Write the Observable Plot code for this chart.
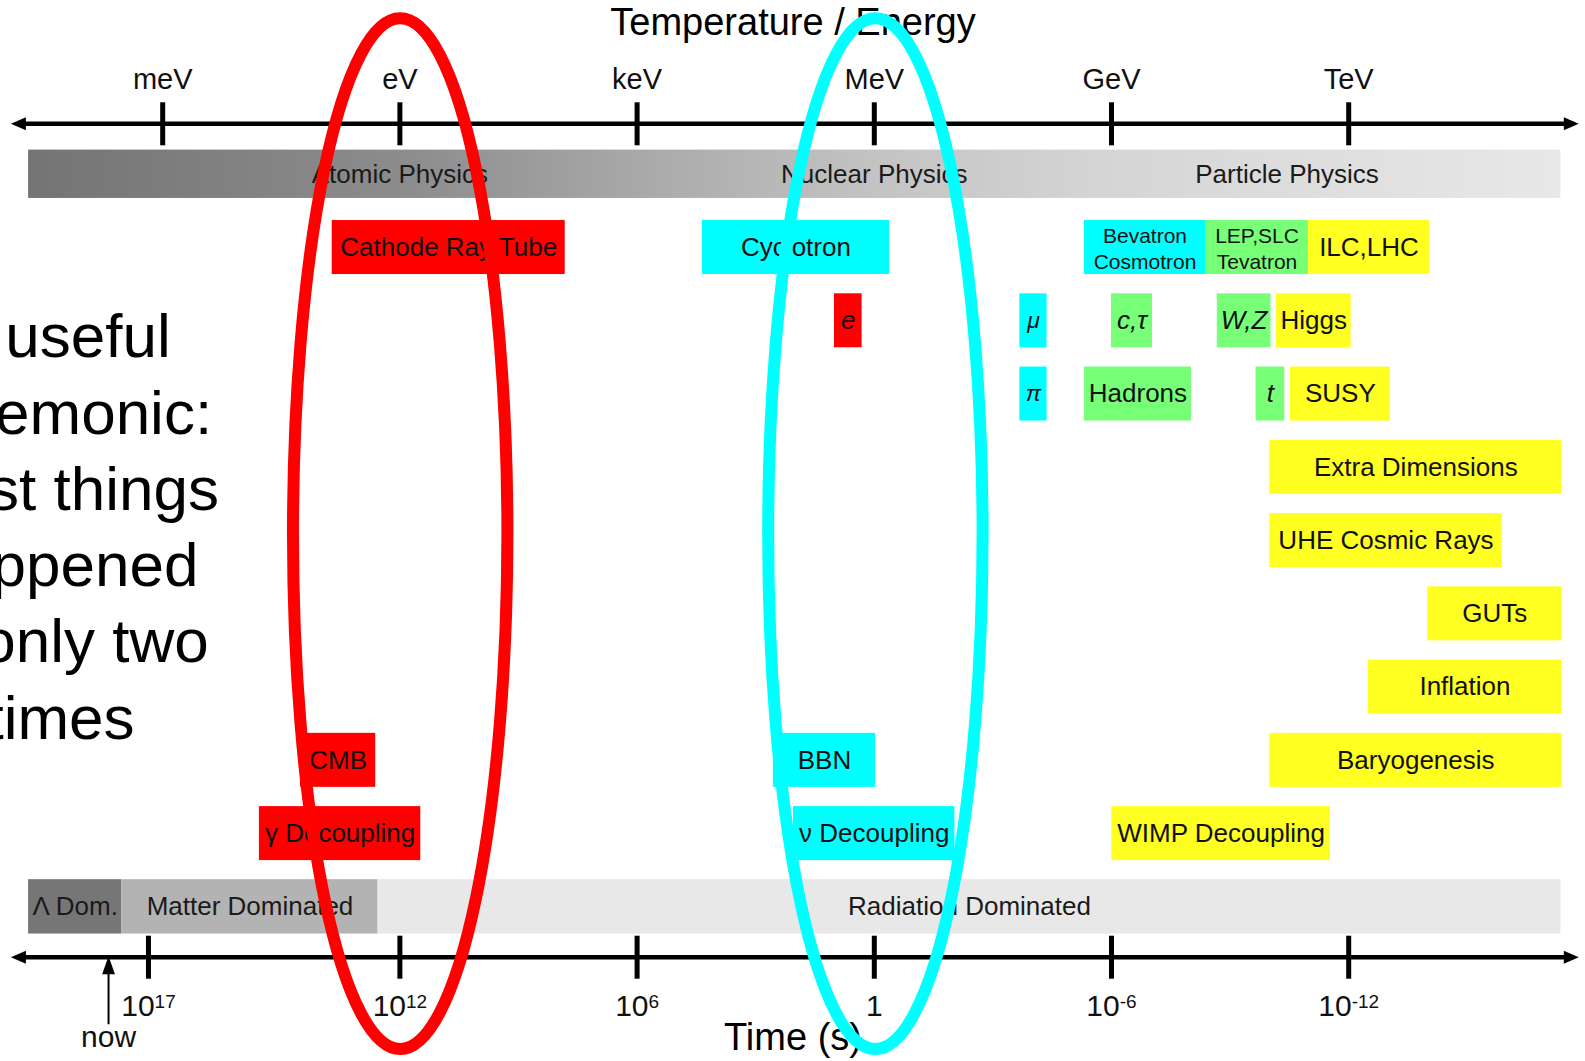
<!DOCTYPE html>
<html>
<head>
<meta charset="utf-8">
<script src="https://cdn.jsdelivr.net/npm/d3@7"></script>
<script src="https://cdn.jsdelivr.net/npm/@observablehq/plot@0.6"></script>
<style>
  html, body { margin: 0; padding: 0; background: #fff; overflow: hidden; }
  #chart svg { display: block; }
</style>
</head>
<body>
<div id="chart"></div>
<script>
// ---------------- DATA ----------------
// x positions are log10(E / eV)
const energyLabels = ["meV", "eV", "keV", "MeV", "GeV", "TeV"];
const energyDecades = [-3, 0, 3, 6, 9, 12];

const timeLabels = ["10^17", "10^12", "10^6", "1", "10^-6", "10^-12"];
const timeDecades = [-3.18, 0, 3, 6, 9, 12];   // where each time tick sits on the energy axis
const nowDecade = -3.685;

const axisSpan = [-4.92, 14.91];               // extent of the two arrowed axes

const physicsLabels = ["Atomic Physics", "Nuclear Physics", "Particle Physics"];
const physicsLabelAt = [0, 6, 11.22];
const physicsSpan = [-4.696, 14.684];

const eraLabels = ["Λ Dom.", "Matter Dominated", "Radiation Dominated"];
const eraFrom = [-4.696, -3.516, -0.276];
const eraTo = [-3.516, -0.276, 14.684];
const eraShade = ["dark", "mid", "light"];

const boxLabels = [
  "Cathode Ray Tube", "Cyclotron", "Bevatron\nCosmotron", "LEP,SLC\nTevatron", "ILC,LHC",
  "e", "μ", "c,τ", "W,Z", "Higgs",
  "π", "Hadrons", "t", "SUSY",
  "Extra Dimensions", "UHE Cosmic Rays", "GUTs", "Inflation",
  "CMB", "BBN", "Baryogenesis",
  "γ Decoupling", "ν Decoupling", "WIMP Decoupling"
];
const boxFrom = [
  -0.856, 3.827, 8.658, 10.189, 11.491,
  5.496, 7.841, 9.0, 10.338, 11.086,
  7.841, 8.658, 10.828, 11.262,
  11.002, 11.002, 13.0, 12.246,
  -1.256, 4.724, 11.002,
  -1.777, 4.978, 9.004
];
const boxTo = [
  2.091, 6.192, 10.189, 11.491, 13.022,
  5.846, 8.185, 9.519, 11.017, 12.031,
  8.185, 10.011, 11.191, 12.527,
  14.695, 13.941, 14.695, 14.695,
  -0.306, 6.015, 14.695,
  0.264, 7.02, 11.769
];
const boxRow = [
  0, 0, 0, 0, 0,
  1, 1, 1, 1, 1,
  2, 2, 2, 2,
  3, 4, 5, 6,
  7, 7, 7,
  8, 8, 8
];
const boxGroup = [
  "red", "cyan", "cyan", "green", "yellow",
  "red", "cyan", "green", "green", "yellow",
  "cyan", "green", "green", "yellow",
  "yellow", "yellow", "yellow", "yellow",
  "red", "cyan", "yellow",
  "red", "cyan", "yellow"
];
const italicLabels = ["e", "μ", "c,τ", "W,Z", "π", "t"];

const ellipseColor = ["#ff0000", "#00ffff"];
const ellipseCenter = [0.01, 6.02];
const ellipseHalfWidth = [1.356, 1.356];
const ellipseTopRow = [-3.123, -3.123];
const ellipseBottomRow = [10.947, 10.947];

const slideText = "A useful\nmnemonic:\nmost things\nhappened\nat only two\ntimes";

// ---------------- LAYOUT / STYLE ----------------
const PHYSICS_ROW = -1, ERA_ROW = 9;
const Y_TOP = -1.689, Y_BOTTOM = 9.687;
const BOX_HALF = 0.3685, PHYS_HALF = 0.33, ERA_HALF = 0.371;
const GROUP_COLORS = {red: "#ff0000", cyan: "#00ffff", green: "#77ff77", yellow: "#ffff22"};
const SHADES = {dark: "#767676", mid: "#b3b3b3", light: "#e8e8e8"};
const GRAD_STOPS = [[0, "#747474"], [0.25, "#8d8d8d"], [0.4, "#a9a9a9"], [0.55, "#c3c3c3"], [0.7, "#d5d5d5"], [1, "#e8e8e8"]];

const boxes = boxLabels.map((label, i) => ({
  label, from: boxFrom[i], to: boxTo[i], row: boxRow[i], group: boxGroup[i],
  italic: italicLabels.includes(label)
}));
const eras = eraLabels.map((label, i) => ({label, from: eraFrom[i], to: eraTo[i], shade: eraShade[i]}));
const physics = physicsLabels.map((label, i) => ({label, at: physicsLabelAt[i]}));
const energyTicks = energyLabels.map((label, i) => ({label, at: energyDecades[i]}));
const timeTicks = timeLabels.map((label, i) => ({label, at: timeDecades[i]}));

// custom symbols
const tickSymbol = {draw(c) { c.moveTo(0, -21.5); c.lineTo(0, 21.5); }};
const rightHead = {draw(c) { c.moveTo(0, 0); c.lineTo(-15, -6.5); c.lineTo(-15, 6.5); c.closePath(); }};
const leftHead = {draw(c) { c.moveTo(0, 0); c.lineTo(15, -6.5); c.lineTo(15, 6.5); c.closePath(); }};
const upArrow = {draw(c) { c.moveTo(0, 0); c.lineTo(5, 14); c.lineTo(-5, 14); c.closePath(); c.moveTo(0, 12); c.lineTo(0, 65); }};

function gradientDefs() {
  const defs = d3.create("svg:defs");
  const g = defs.append("linearGradient").attr("id", "physGrad")
    .attr("x1", "0").attr("x2", "1").attr("y1", "0").attr("y2", "0");
  for (const [o, c] of GRAD_STOPS) g.append("stop").attr("offset", o).attr("stop-color", c);
  return defs.node();
}

function ellipses(index, scales) {
  const {x, y} = scales;
  const g = d3.create("svg:g").attr("fill", "none").attr("stroke-width", 12);
  ellipseColor.forEach((col, i) => {
    const cx = x(ellipseCenter[i]);
    const rx = x(ellipseCenter[i] + ellipseHalfWidth[i]) - cx;
    const y0 = y(ellipseTopRow[i]), y1 = y(ellipseBottomRow[i]);
    g.append("ellipse").attr("cx", cx).attr("cy", (y0 + y1) / 2)
      .attr("rx", rx).attr("ry", Math.abs(y1 - y0) / 2).attr("stroke", col);
  });
  return g.node();
}

const chart = Plot.plot({
  width: 1585,
  height: 1061,
  marginLeft: 0,
  marginRight: 0,
  marginTop: 123.3,
  marginBottom: 104.3,
  style: {fontFamily: '"Liberation Sans", Arial, Helvetica, sans-serif', background: "#fff", color: "#000", overflow: "visible"},
  x: {type: "linear", domain: [-3, 12], range: [162.2, 1348.2], axis: null},
  y: {type: "linear", domain: [Y_TOP, Y_BOTTOM], reverse: true, axis: null},
  color: {type: "identity"},
  marks: [
    gradientDefs,
    // slide text on the left (clipped by the page edge as in the original)
    Plot.text([slideText], {text: d => d, frameAnchor: "left", lineAnchor: "middle", dx: 60, dy: -17, textAnchor: "middle",
      fontSize: 62, lineHeight: 1.23, fill: "#000"}),
    // physics band
    Plot.rect([physicsSpan], {x1: d => d[0], x2: d => d[1], y1: PHYSICS_ROW - PHYS_HALF, y2: PHYSICS_ROW + PHYS_HALF, fill: "url(#physGrad)"}),
    Plot.text(physics, {x: "at", y: PHYSICS_ROW, text: "label", fontSize: 26, fill: "#1a1a1a"}),
    // eras band
    Plot.rect(eras, {x1: "from", x2: "to", y1: ERA_ROW - ERA_HALF, y2: ERA_ROW + ERA_HALF, fill: d => SHADES[d.shade]}),
    Plot.text(eras, {x: d => (d.from + d.to) / 2, y: ERA_ROW, text: "label", fontSize: 26, fill: "#1a1a1a"}),
    // boxes
    Plot.rect(boxes, {x1: "from", x2: "to", y1: d => d.row - BOX_HALF, y2: d => d.row + BOX_HALF, fill: d => GROUP_COLORS[d.group]}),
    Plot.text(boxes, {filter: d => !d.italic && !d.label.includes("\n"), x: d => (d.from + d.to) / 2, y: "row", text: "label", fontSize: 26, fill: "#111"}),
    Plot.text(boxes, {filter: d => d.label.includes("\n"), x: d => (d.from + d.to) / 2, y: "row", text: "label", fontSize: 21, lineHeight: 1.27, fill: "#111"}),
    Plot.text(boxes, {filter: d => d.italic && d.label.length > 1, x: d => (d.from + d.to) / 2, y: "row", text: "label", fontSize: 26, fontStyle: "italic", fill: "#111"}),
    Plot.text(boxes, {filter: d => d.italic && d.label.length === 1 && d.label !== "e" && d.label !== "t", x: d => (d.from + d.to) / 2, y: "row", text: "label", fontSize: 23, fontStyle: "italic", fill: "#111"}),
    Plot.text(boxes, {filter: d => d.label === "e" || d.label === "t", x: d => (d.from + d.to) / 2, y: "row", text: "label", fontSize: 26, fontStyle: "italic", fill: "#111"}),
    // axes lines
    Plot.ruleY([Y_TOP, Y_BOTTOM], {x1: axisSpan[0], x2: axisSpan[1], insetLeft: 12, insetRight: 12, strokeWidth: 4.5, stroke: "#000"}),
    Plot.dot([Y_TOP, Y_BOTTOM], {x: axisSpan[1], y: d => d, symbol: rightHead, fill: "#000", stroke: "none"}),
    Plot.dot([Y_TOP, Y_BOTTOM], {x: axisSpan[0], y: d => d, symbol: leftHead, fill: "#000", stroke: "none"}),
    // energy ticks + labels
    Plot.dot(energyTicks, {x: "at", frameAnchor: "top", symbol: tickSymbol, fill: "none", stroke: "#000", strokeWidth: 5}),
    Plot.text(energyTicks, {x: "at", frameAnchor: "top", lineAnchor: "middle", dy: -44, text: "label", fontSize: 29, fill: "#111"}),
    Plot.text(["Temperature / Energy"], {text: d => d, frameAnchor: "top", lineAnchor: "middle", dy: -100.5, fontSize: 38, fill: "#000"}),
    // time ticks + labels
    Plot.dot(timeTicks, {x: "at", frameAnchor: "bottom", symbol: tickSymbol, fill: "none", stroke: "#000", strokeWidth: 5}),
    Plot.text(timeTicks, {x: "at", frameAnchor: "bottom", lineAnchor: "middle", dy: 48.7, text: "label", fontSize: 30, fill: "#111"}),
    Plot.dot([nowDecade], {x: d => d, frameAnchor: "bottom", dy: 2, symbol: upArrow, fill: "#000", stroke: "#000", strokeWidth: 2}),
    Plot.text(["now"], {x: nowDecade, text: d => d, frameAnchor: "bottom", lineAnchor: "middle", dy: 80.4, fontSize: 30, fill: "#111"}),
    Plot.text(["Time (s)"], {text: d => d, frameAnchor: "bottom", lineAnchor: "middle", dy: 81, fontSize: 38, fill: "#000"}),
    // the two highlight ellipses
    ellipses
  ]
});

// turn "10^17" into real superscripts
chart.querySelectorAll("text").forEach(t => {
  if (t.querySelector("tspan")) return;
  const m = /^10\^(.+)$/.exec(t.textContent);
  if (!m) return;
  t.textContent = "10";
  const ts = document.createElementNS("http://www.w3.org/2000/svg", "tspan");
  ts.setAttribute("dy", "-8");
  ts.setAttribute("font-size", "19");
  ts.textContent = m[1];
  t.appendChild(ts);
});

document.getElementById("chart").appendChild(chart);
</script>
</body>
</html>
